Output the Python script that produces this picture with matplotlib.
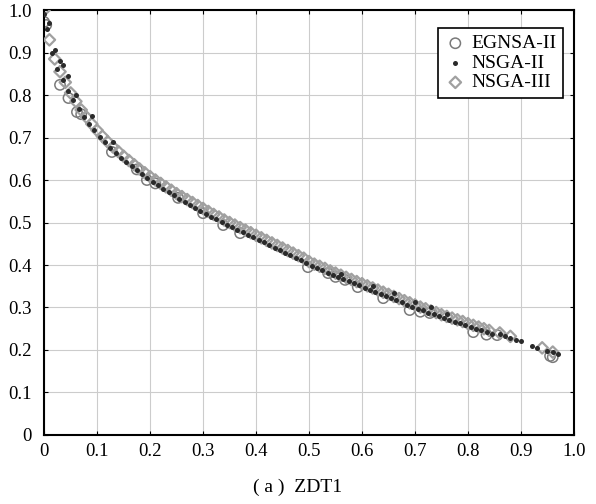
import matplotlib
matplotlib.use("Agg")
import matplotlib.pyplot as plt

# ================= DATA =================
egnsa_x = [0.0, 0.004, 0.030, 0.046, 0.062, 0.070, 0.128, 0.175, 0.194, 0.210,
           0.253, 0.300, 0.338, 0.370, 0.498, 0.536, 0.550, 0.568, 0.592, 0.640,
           0.690, 0.710, 0.728, 0.810, 0.835, 0.855, 0.955, 0.960]
egnsa_y = [0.972, 0.965, 0.824, 0.793, 0.760, 0.755, 0.666, 0.625, 0.600, 0.592,
           0.558, 0.522, 0.494, 0.475, 0.395, 0.381, 0.372, 0.365, 0.348, 0.322,
           0.294, 0.290, 0.287, 0.242, 0.236, 0.235, 0.186, 0.183]

# NSGA-II: dense dark line plus scattered dots and a sparse tail
nsga2_x = [0.005, 0.015, 0.025, 0.035, 0.045, 0.055, 0.065, 0.075, 0.085, 0.095,
           0.105, 0.115, 0.125, 0.135, 0.145, 0.155, 0.165, 0.175, 0.185, 0.195,
           0.205, 0.215, 0.225, 0.235, 0.245, 0.255, 0.265, 0.275, 0.285, 0.295,
           0.305, 0.315, 0.325, 0.335, 0.345, 0.355, 0.365, 0.375, 0.385, 0.395,
           0.405, 0.415, 0.425, 0.435, 0.445, 0.455, 0.465, 0.475, 0.485, 0.495,
           0.505, 0.515, 0.525, 0.535, 0.545, 0.555, 0.565, 0.575, 0.585, 0.595,
           0.605, 0.615, 0.625, 0.635, 0.645, 0.655, 0.665, 0.675, 0.685, 0.695,
           0.705, 0.715, 0.725, 0.735, 0.745, 0.755, 0.765, 0.775, 0.785, 0.795,
           0.805, 0.815, 0.825, 0.835, 0.845,
           0.0, 0.010, 0.020, 0.030, 0.035, 0.045, 0.060, 0.090, 0.130, 0.560,
           0.620, 0.660, 0.700, 0.730, 0.760,
           0.860, 0.870, 0.880, 0.890, 0.900, 0.920, 0.930, 0.950, 0.960, 0.970]
nsga2_y = [0.955, 0.900, 0.862, 0.835, 0.810, 0.788, 0.768, 0.749, 0.732, 0.717,
           0.702, 0.689, 0.676, 0.664, 0.653, 0.643, 0.633, 0.623, 0.614, 0.605,
           0.596, 0.588, 0.580, 0.572, 0.564, 0.556, 0.549, 0.542, 0.535, 0.528,
           0.521, 0.514, 0.508, 0.501, 0.495, 0.489, 0.483, 0.477, 0.471, 0.465,
           0.459, 0.453, 0.447, 0.441, 0.435, 0.429, 0.423, 0.417, 0.411, 0.405,
           0.398, 0.393, 0.388, 0.382, 0.377, 0.372, 0.367, 0.362, 0.357, 0.352,
           0.347, 0.342, 0.337, 0.332, 0.327, 0.322, 0.317, 0.312, 0.307, 0.302,
           0.297, 0.293, 0.288, 0.284, 0.279, 0.275, 0.271, 0.267, 0.263, 0.258,
           0.254, 0.250, 0.246, 0.242, 0.238,
           0.990, 0.970, 0.905, 0.880, 0.870, 0.845, 0.800, 0.750, 0.690, 0.380,
           0.350, 0.335, 0.312, 0.300, 0.285,
           0.238, 0.232, 0.228, 0.224, 0.220, 0.210, 0.205, 0.198, 0.195, 0.190]

# NSGA-III: light grey diamonds just above the dark line
nsga3_x = [0.00, 0.01, 0.02, 0.03, 0.04, 0.05, 0.06, 0.07, 0.08, 0.09,
           0.10, 0.11, 0.12, 0.13, 0.14, 0.15, 0.16, 0.17, 0.18, 0.19,
           0.20, 0.21, 0.22, 0.23, 0.24, 0.25, 0.26, 0.27, 0.28, 0.29,
           0.30, 0.31, 0.32, 0.33, 0.34, 0.35, 0.36, 0.37, 0.38, 0.39,
           0.40, 0.41, 0.42, 0.43, 0.44, 0.45, 0.46, 0.47, 0.48, 0.49,
           0.50, 0.51, 0.52, 0.53, 0.54, 0.55, 0.56, 0.57, 0.58, 0.59,
           0.60, 0.61, 0.62, 0.63, 0.64, 0.65, 0.66, 0.67, 0.68, 0.69,
           0.70, 0.71, 0.72, 0.73, 0.74, 0.75, 0.76, 0.77, 0.78, 0.79,
           0.80, 0.81, 0.82, 0.83, 0.84, 0.86, 0.88, 0.94, 0.96]
nsga3_y = [1.000, 0.930, 0.885, 0.855, 0.830, 0.805, 0.785, 0.765, 0.748, 0.732,
           0.717, 0.703, 0.690, 0.678, 0.667, 0.656, 0.646, 0.636, 0.626, 0.617,
           0.608, 0.600, 0.592, 0.584, 0.576, 0.568, 0.561, 0.554, 0.547, 0.540,
           0.533, 0.526, 0.519, 0.513, 0.506, 0.500, 0.494, 0.488, 0.482, 0.476,
           0.470, 0.464, 0.458, 0.452, 0.446, 0.440, 0.434, 0.428, 0.422, 0.416,
           0.408, 0.402, 0.397, 0.392, 0.386, 0.381, 0.376, 0.371, 0.366, 0.361,
           0.356, 0.351, 0.346, 0.341, 0.336, 0.331, 0.326, 0.321, 0.316, 0.311,
           0.306, 0.301, 0.297, 0.292, 0.288, 0.283, 0.279, 0.275, 0.271, 0.267,
           0.262, 0.258, 0.254, 0.250, 0.246, 0.240, 0.232, 0.205, 0.195]

ticks = [0, 0.1, 0.2, 0.3, 0.4, 0.5, 0.6, 0.7, 0.8, 0.9, 1.0]
tick_labels = ["0", "0.1", "0.2", "0.3", "0.4", "0.5", "0.6", "0.7", "0.8", "0.9", "1.0"]
# =================================================================

plt.rcParams["font.family"] = ["Liberation Serif", "DejaVu Serif"]

fig = plt.figure(figsize=(5.96, 5.04), dpi=100)
ax = fig.add_axes([0.074, 0.137, 0.889, 0.843])

ax.scatter(egnsa_x, egnsa_y, s=55, facecolors="none", edgecolors="#7a7a7a",
           linewidths=1.1, label="EGNSA-II", zorder=2)
ax.scatter(nsga3_x, nsga3_y, s=34, facecolors="none", edgecolors="#a0a0a0",
           marker="D", linewidths=1.6, label="NSGA-III", zorder=3)
ax.scatter(nsga2_x, nsga2_y, s=13, color="#2a2a2a", marker="o", linewidths=0,
           label="NSGA-II", zorder=4)

ax.set_xlim(0, 1.0)
ax.set_ylim(0, 1.0)
ax.set_xticks(ticks)
ax.set_xticklabels(tick_labels)
ax.set_yticks(ticks)
ax.set_yticklabels(tick_labels)
ax.tick_params(labelsize=13.5, direction="in", length=3, top=True, right=True)
ax.tick_params(axis="y", pad=9)
ax.tick_params(axis="x", pad=6)
ax.grid(True, color="#cccccc", linewidth=0.8)
ax.set_axisbelow(True)
for sp in ax.spines.values():
    sp.set_linewidth(1.5)

handles, labels = ax.get_legend_handles_labels()
order = [labels.index("EGNSA-II"), labels.index("NSGA-II"), labels.index("NSGA-III")]
leg = ax.legend([handles[i] for i in order], [labels[i] for i in order],
                loc="upper right", bbox_to_anchor=(0.979, 0.958), fontsize=14,
                fancybox=False, edgecolor="black", framealpha=1,
                handletextpad=0.25, borderpad=0.35, labelspacing=0.1,
                handlelength=1.1, borderaxespad=0)
leg.get_frame().set_linewidth(1.2)

fig.text(0.5, 0.015, "( a )  ZDT1", ha="center", va="bottom", fontsize=14)

fig.savefig("out.png", dpi=100)
